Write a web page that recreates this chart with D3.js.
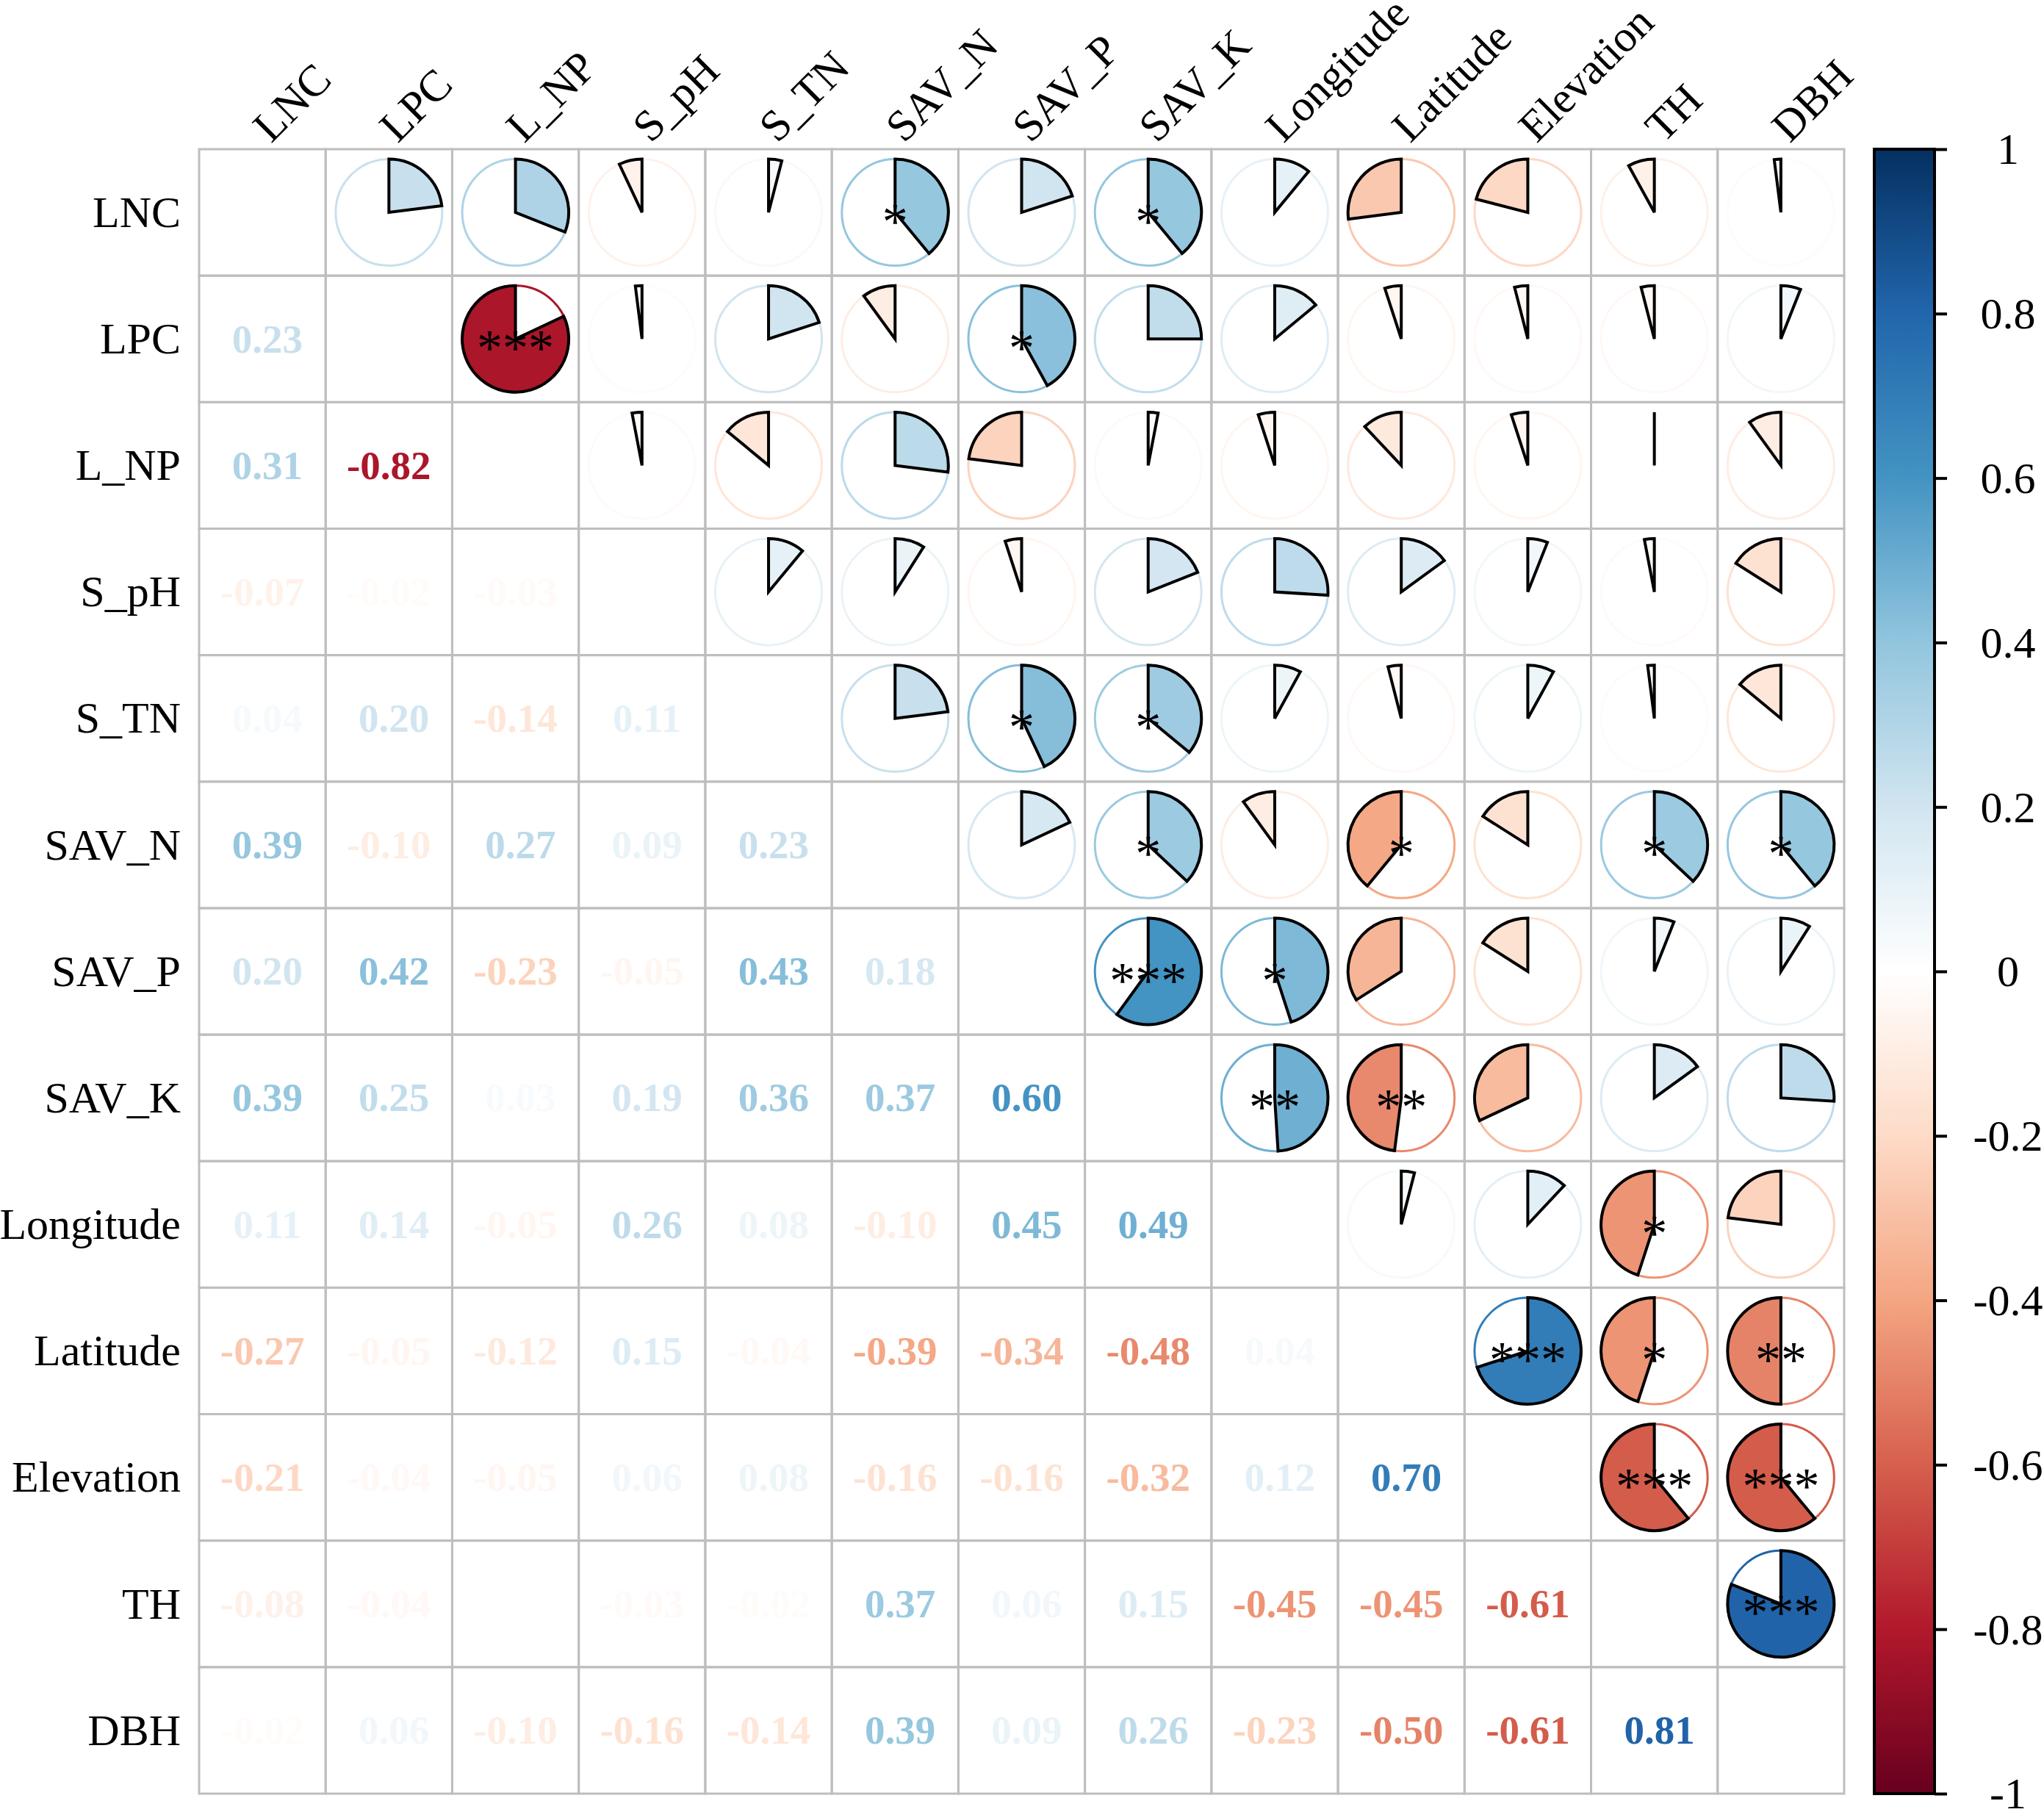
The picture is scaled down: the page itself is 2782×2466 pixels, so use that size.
<!DOCTYPE html>
<html>
<head>
<meta charset="utf-8">
<script src="https://cdn.jsdelivr.net/npm/d3@7"></script>
<style>
  html, body { margin: 0; padding: 0; background: #fff; }
  svg { display: block; }
  text { font-family: "Liberation Serif", "Times New Roman", serif; }
</style>
</head>
<body>
<svg id="chart" width="2782" height="2466"></svg>
<script>
// ---------- data ----------
const variables = ["LNC","LPC","L_NP","S_pH","S_TN","SAV_N","SAV_P","SAV_K","Longitude","Latitude","Elevation","TH","DBH"];

// lower triangle of the correlation matrix (row i, columns 0..i-1)
const corrLower = [
  [],
  [0.23],
  [0.31, -0.82],
  [-0.07, -0.02, -0.03],
  [0.04, 0.20, -0.14, 0.11],
  [0.39, -0.10, 0.27, 0.09, 0.23],
  [0.20, 0.42, -0.23, -0.05, 0.43, 0.18],
  [0.39, 0.25, 0.03, 0.19, 0.36, 0.37, 0.60],
  [0.11, 0.14, -0.05, 0.26, 0.08, -0.10, 0.45, 0.49],
  [-0.27, -0.05, -0.12, 0.15, -0.04, -0.39, -0.34, -0.48, 0.04],
  [-0.21, -0.04, -0.05, 0.06, 0.08, -0.16, -0.16, -0.32, 0.12, 0.70],
  [-0.08, -0.04, 0.00, -0.03, -0.02, 0.37, 0.06, 0.15, -0.45, -0.45, -0.61],
  [-0.02, 0.06, -0.10, -0.16, -0.14, 0.39, 0.09, 0.26, -0.23, -0.50, -0.61, 0.81]
];

// significance marks shown in the upper triangle
const significance = [
  ["LNC","SAV_N","*"], ["LNC","SAV_K","*"],
  ["LPC","L_NP","***"], ["LPC","SAV_P","*"],
  ["S_TN","SAV_P","*"], ["S_TN","SAV_K","*"],
  ["SAV_N","SAV_K","*"], ["SAV_N","Latitude","*"], ["SAV_N","TH","*"], ["SAV_N","DBH","*"],
  ["SAV_P","SAV_K","***"], ["SAV_P","Longitude","*"],
  ["SAV_K","Longitude","**"], ["SAV_K","Latitude","**"],
  ["Longitude","TH","*"],
  ["Latitude","Elevation","***"], ["Latitude","TH","*"], ["Latitude","DBH","**"],
  ["Elevation","TH","***"], ["Elevation","DBH","***"],
  ["TH","DBH","***"]
];

const colorbarTicks = [-1, -0.8, -0.6, -0.4, -0.2, 0, 0.2, 0.4, 0.6, 0.8, 1];
const colorbarLabels = ["-1", "-0.8", "-0.6", "-0.4", "-0.2", "0", "0.2", "0.4", "0.6", "0.8", "1"];

const paletteStops = ["#67001F","#B2182B","#D6604D","#F4A582","#FDDBC7","#FFFFFF","#D1E5F0","#92C5DE","#4393C3","#2166AC","#053061"];

// ---------- build ----------
(function () {
const svg = d3.select("#chart");
const gLeft = 271, gRight = 2510, gTop = 203, gBottom = 2441;

const x = d3.scaleBand().domain(variables).range([gLeft, gRight]);
const y = d3.scaleBand().domain(variables).range([gTop, gBottom]);
const cw = x.bandwidth(), ch = y.bandwidth();

const color = d3.scaleLinear()
  .domain(d3.range(paletteStops.length).map(i => -1 + 2 * i / (paletteStops.length - 1)))
  .range(paletteStops)
  .interpolate(d3.interpolateRgb);

const fmt = d3.formatLocale({decimal: ".", thousands: ",", grouping: [3], currency: ["", ""], minus: "-"}).format(".2f");

// full matrix
const n = variables.length;
const cells = [];
for (let i = 0; i < n; i++) {
  for (let j = 0; j < n; j++) {
    if (i === j) continue;
    const r = i > j ? corrLower[i][j] : corrLower[j][i];
    cells.push({row: variables[i], col: variables[j], i, j, r});
  }
}
const sigMap = new Map(significance.map(d => [d[0] + "|" + d[1], d[2]]));

// grid
const gridG = svg.append("g");
variables.forEach(rv => {
  variables.forEach(cv => {
    gridG.append("rect")
      .attr("x", x(cv)).attr("y", y(rv))
      .attr("width", cw).attr("height", ch)
      .attr("fill", "none").attr("stroke", "#BEBEBE").attr("stroke-width", 3);
  });
});

// lower triangle numbers
const valFs = 55;
svg.append("g").selectAll("text")
  .data(cells.filter(d => d.i > d.j))
  .join("text")
  .attr("x", d => x(d.col) + cw / 2 + (d.r >= 0 ? valFs * 0.125 : 0))
  .attr("y", d => y(d.row) + ch / 2 + valFs * 0.333)
  .attr("text-anchor", "middle")
  .attr("font-size", valFs)
  .attr("font-weight", "bold")
  .attr("fill", d => color(d.r))
  .text(d => fmt(d.r));

// upper triangle pies
const radius = 72.5;
const arc = d3.arc().innerRadius(0).outerRadius(radius);
const pieG = svg.append("g").selectAll("g")
  .data(cells.filter(d => d.i < d.j))
  .join("g")
  .attr("transform", d => `translate(${x(d.col) + cw / 2},${y(d.row) + ch / 2})`);

pieG.append("circle")
  .attr("r", radius)
  .attr("fill", "white")
  .attr("stroke", d => color(d.r))
  .attr("stroke-width", 3);

pieG.append("path")
  .attr("d", d => {
    const a = 2 * Math.PI * d.r;
    return a >= 0 ? arc({startAngle: 0, endAngle: a}) : arc({startAngle: a, endAngle: 0});
  })
  .attr("fill", d => color(d.r))
  .attr("stroke", "black")
  .attr("stroke-width", 4)
  .attr("stroke-linejoin", "miter");

const starFs = 70;
pieG.filter(d => sigMap.has(d.row + "|" + d.col))
  .append("text")
  .attr("x", 0)
  .attr("y", starFs * 0.466 + 3)
  .attr("text-anchor", "middle")
  .attr("font-size", starFs)
  .attr("fill", "black")
  .text(d => sigMap.get(d.row + "|" + d.col));

// row labels
const labFs = 60;
svg.append("g").selectAll("text")
  .data(variables)
  .join("text")
  .attr("x", gLeft - 25)
  .attr("y", d => y(d) + ch / 2 + labFs * 0.33)
  .attr("text-anchor", "end")
  .attr("font-size", labFs)
  .attr("fill", "black")
  .text(d => d);

// column labels
svg.append("g").selectAll("text")
  .data(variables)
  .join("text")
  .attr("transform", d => `translate(${x(d) + cw / 2 + 12},${gTop - 7}) rotate(-45)`)
  .attr("text-anchor", "start")
  .attr("font-size", labFs)
  .attr("fill", "black")
  .text(d => d);

// colorbar
const cbX0 = 2551, cbX1 = 2633;
const cbScale = d3.scaleLinear().domain([-1, 1]).range([gBottom, gTop]);
const defs = svg.append("defs");
const grad = defs.append("linearGradient")
  .attr("id", "cbgrad").attr("x1", 0).attr("y1", 1).attr("x2", 0).attr("y2", 0);
d3.range(0, 201).forEach(k => {
  const v = -1 + 2 * k / 200;
  grad.append("stop").attr("offset", (k / 200)).attr("stop-color", color(v));
});
svg.append("rect")
  .attr("x", cbX0).attr("y", gTop)
  .attr("width", cbX1 - cbX0).attr("height", gBottom - gTop)
  .attr("fill", "url(#cbgrad)")
  .attr("stroke", "black").attr("stroke-width", 4);

const cbAxis = d3.axisRight(cbScale)
  .tickValues(colorbarTicks)
  .tickSize(17)
  .tickSizeOuter(0)
  .tickFormat((d, i) => colorbarLabels[i]);
const axG = svg.append("g").attr("transform", `translate(${cbX1},0)`).call(cbAxis);
axG.select(".domain").remove();
axG.selectAll(".tick line").attr("stroke", "black").attr("stroke-width", 4);
axG.selectAll(".tick text")
  .attr("x", 100)
  .attr("dy", "0.33em")
  .attr("text-anchor", "middle")
  .attr("font-size", labFs)
  .attr("font-family", "Liberation Serif, serif")
  .attr("fill", "black");
})();
</script>
</body>
</html>
